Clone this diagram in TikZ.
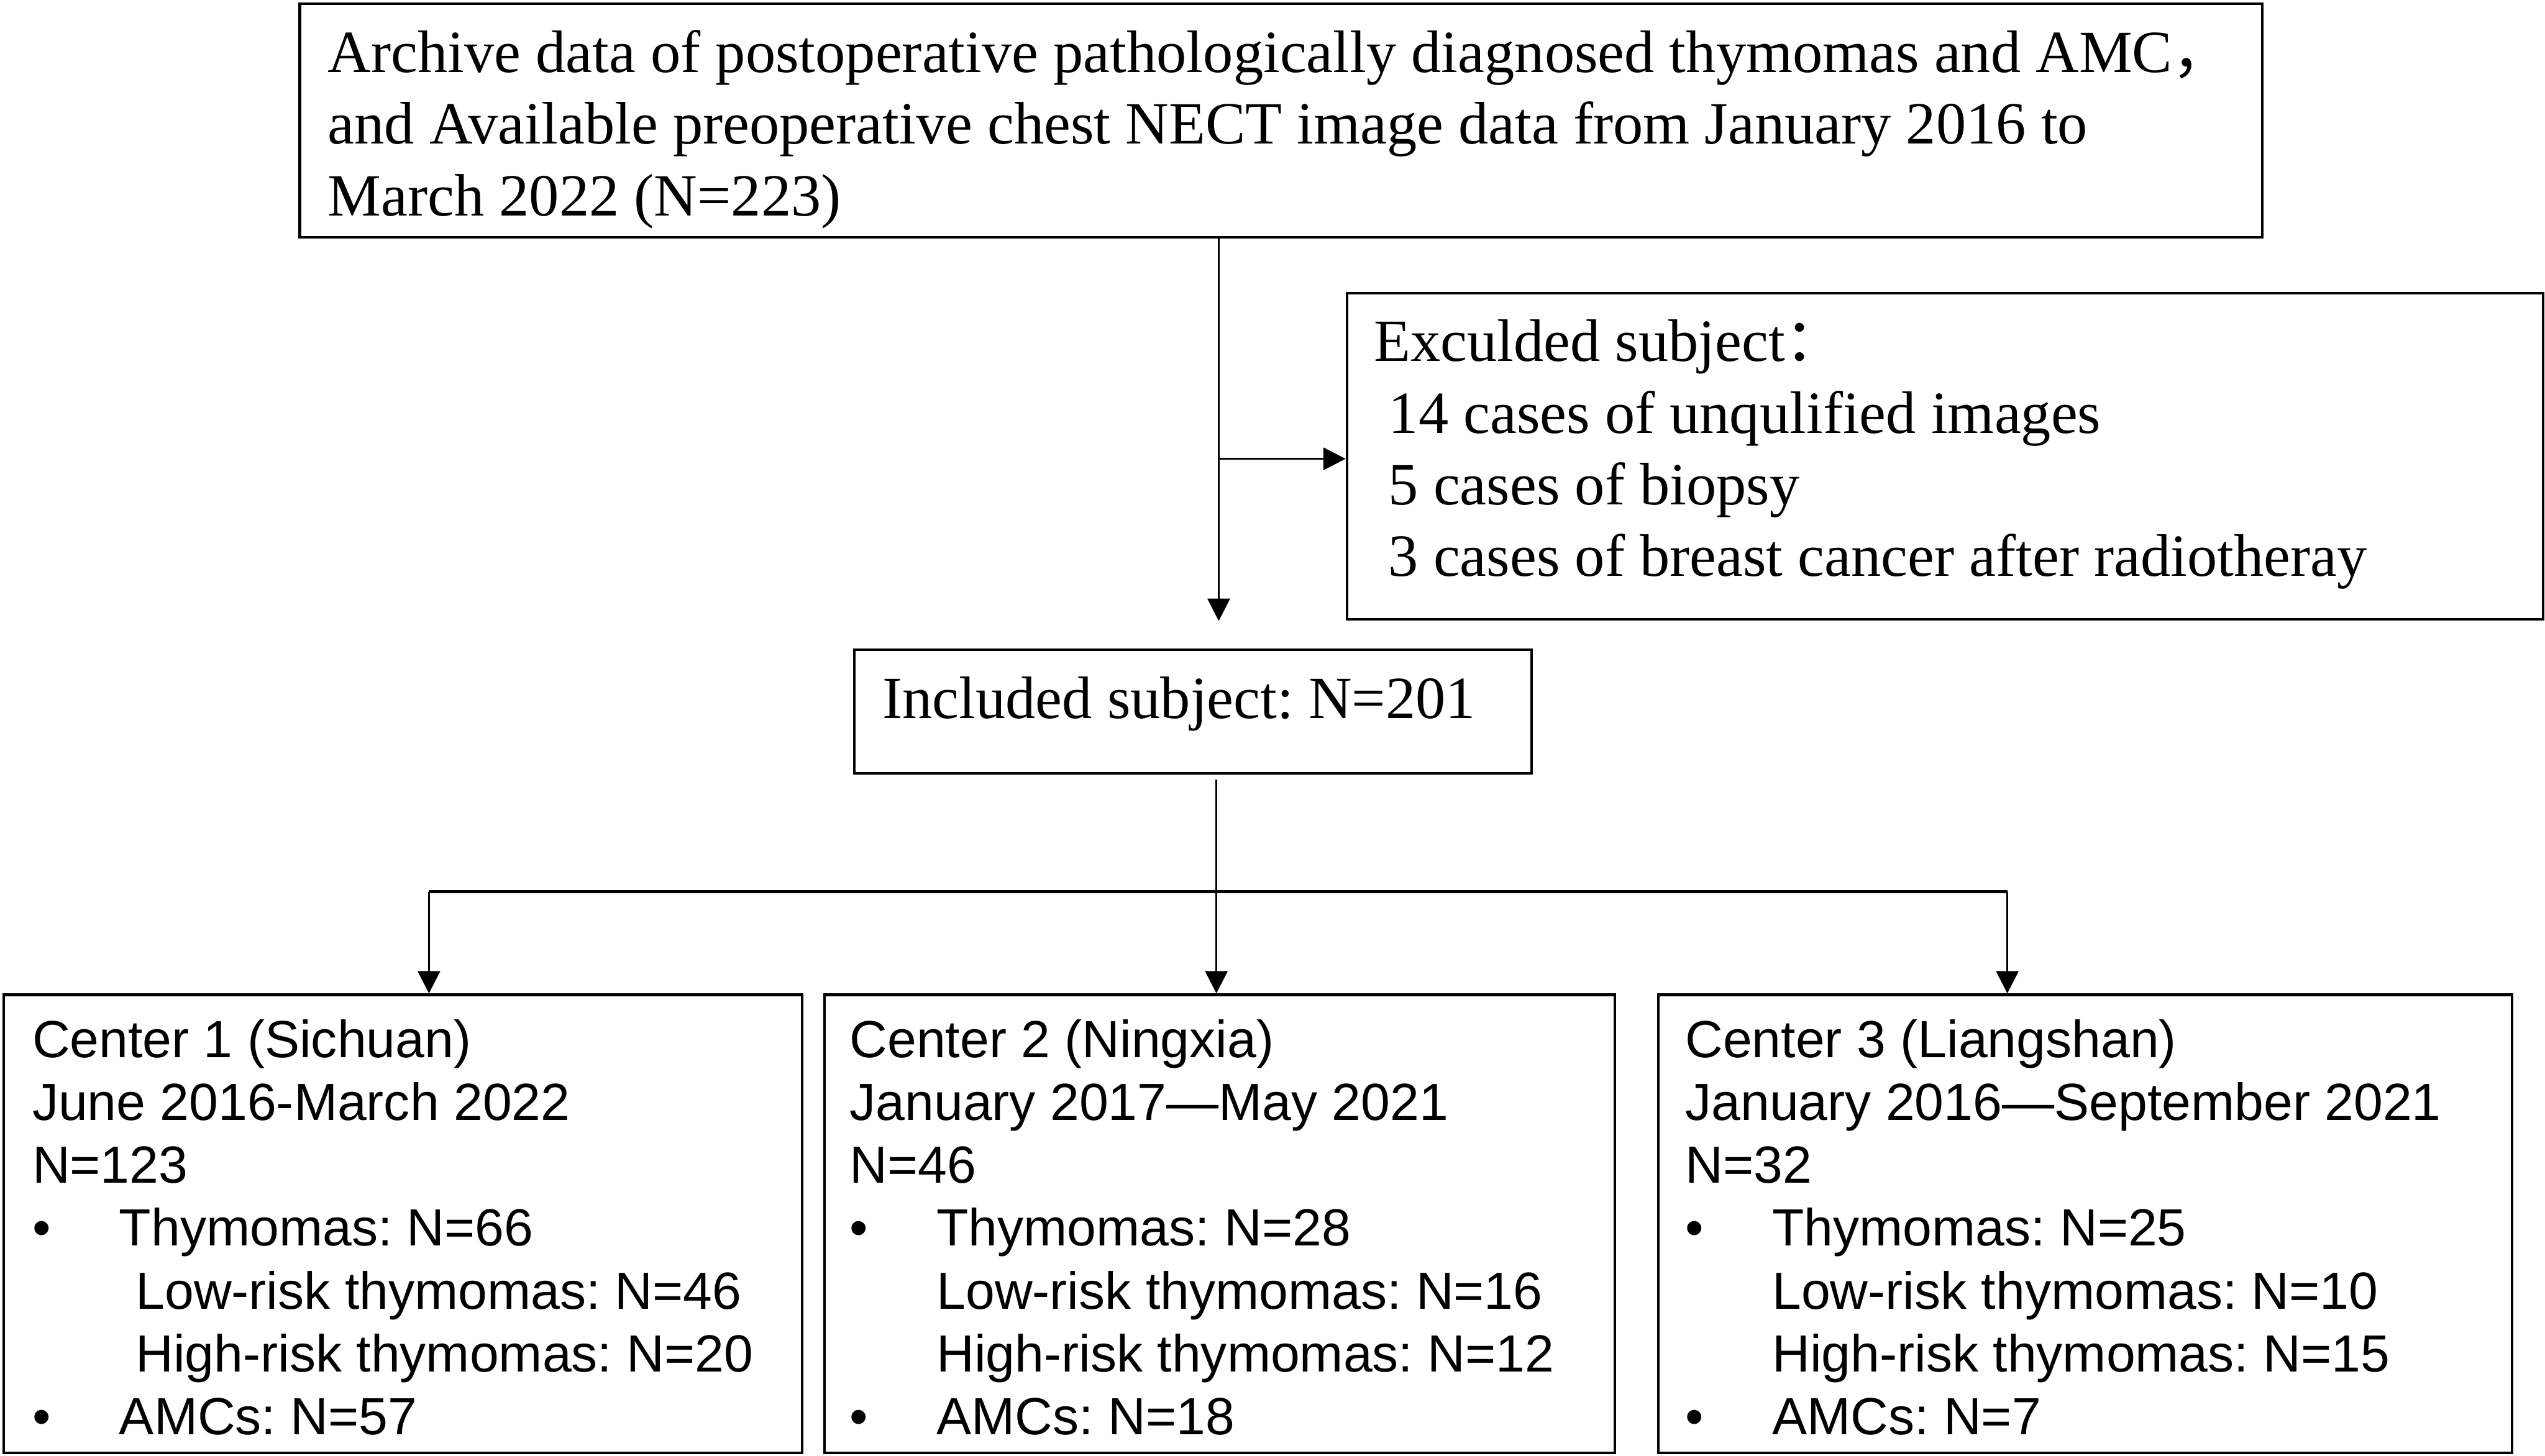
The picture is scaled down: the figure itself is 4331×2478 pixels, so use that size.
\documentclass[tikz,border=0pt]{standalone}
\usepackage{fontspec}
\setmainfont{Liberation Serif}
\newfontfamily\arialf{Liberation Sans}
\newfontfamily\cjk{Noto Sans CJK SC}
\usetikzlibrary{arrows.meta}
\newcommand\bul{\makebox[14.8pt][l]{•}}
\frenchspacing
\begin{document}
\frenchspacing
\begin{tikzpicture}[x=0.1pt,y=-0.1pt,
  box/.style={draw,line width=0.45pt,inner sep=0pt,anchor=north west},
  st/.style={inner sep=0pt,anchor=base west,font=\frenchspacing\fontsize{10.2pt}{12.2pt}\selectfont},
  ss/.style={inner sep=0pt,anchor=base west,font=\frenchspacing\arialf\fontsize{8.9pt}{10.7pt}\selectfont},
  arr/.style={line width=0.35pt,-{Triangle[width=3.8pt,length=3.8pt]}}]
\useasboundingbox (0,0) rectangle (4331,2478);
% boxes
\node[box,minimum width=334pt,minimum height=39.8pt] (top) at (508,4) {};
\node[box,minimum width=203.6pt,minimum height=55.5pt] (excl) at (2290,497) {};
\node[box,minimum width=115.2pt,minimum height=21pt] (incl) at (1452,1104) {};
\node[box,minimum width=135.9pt,minimum height=78pt] (b1) at (4,1691) {};
\node[box,minimum width=134.5pt,minimum height=78pt] (b2) at (1401,1691) {};
\node[box,minimum width=145.3pt,minimum height=78pt] (b3) at (2820,1691) {};
% top text
\foreach \t [count=\i] in {Archive data of postoperative pathologically diagnosed thymomas and AMC{\cjk ，},
  and Available preoperative chest NECT image data from January 2016 to,
  March 2022 (N=223)}
  \node[st] (top\i) at (556,{123+(\i-1)*122}) {\t};
% excluded text
\node[st] (ex1) at (2336,615) {Exculded subject{\cjk ：}};
\node[st] (ex2) at (2361,737) {14 cases of unqulified images};
\node[st] (ex3) at (2361,859) {5 cases of biopsy};
\node[st] (ex4) at (2361,981) {3 cases of breast cancer after radiotheray};
% included text
\node[st] (intext) at (1500,1223) {Included subject: N=201};
% center 1
\foreach \t [count=\i] in {Center 1 (Sichuan), June 2016-March 2022, N=123,
  \bul Thymomas: N=66, \hspace{17.6pt}Low-risk thymomas: N=46,
  \hspace{17.6pt}High-risk thymomas: N=20, \bul AMCs: N=57}
  \node[ss] (ca\i) at (53,{1800+(\i-1)*107}) {\t};
% center 2
\foreach \t [count=\i] in {Center 2 (Ningxia), January 2017—May 2021, N=46,
  \bul Thymomas: N=28, \hspace{14.8pt}Low-risk thymomas: N=16,
  \hspace{14.8pt}High-risk thymomas: N=12, \bul AMCs: N=18}
  \node[ss] (cb\i) at (1444,{1800+(\i-1)*107}) {\t};
% center 3
\foreach \t [count=\i] in {Center 3 (Liangshan), January 2016—September 2021, N=32,
  \bul Thymomas: N=25, \hspace{14.8pt}Low-risk thymomas: N=10,
  \hspace{14.8pt}High-risk thymomas: N=15, \bul AMCs: N=7}
  \node[ss] (cc\i) at (2866,{1800+(\i-1)*107}) {\t};
% connectors
\coordinate (xm) at (2074,0);
\coordinate (jb) at (2074,781);
\coordinate (xs) at (2070,0);
\coordinate (hl) at (730,1518);
\coordinate (hr) at (3416,1518);
\draw[arr] (top.south -| xm) -- ([yshift=4.7pt]incl.north -| xm);
\draw[arr] (jb) -- (jb -| excl.west);
\draw[arr] ([yshift=-0.8pt]incl.south -| xs) -- (b2.north -| xs);
\draw[line width=0.55pt] (hl) -- (hr);
\draw[arr] (hl) -- (hl |- b1.north);
\draw[arr] (hr) -- (hr |- b3.north);
\end{tikzpicture}
\end{document}
